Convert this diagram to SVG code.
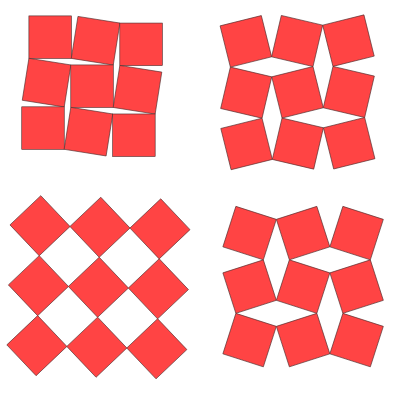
<svg xmlns="http://www.w3.org/2000/svg" xmlns:xlink="http://www.w3.org/1999/xlink" width="400" height="400" viewBox="0 0 400 400">
<style>
.sq{fill:#ff4444;stroke:#4a2a2a;stroke-width:0.6;stroke-linejoin:miter}
</style>
<defs>
<rect id="s" class="sq" x="-21.25" y="-21.25" width="42.5" height="42.5"/>
</defs>
<rect width="400" height="400" fill="#ffffff"/>
<g id="panel1" transform="translate(50.15,37.15) rotate(4.5)">
<use href="#s" transform="translate(0,0) rotate(-4.5)"/>
<use href="#s" transform="translate(45.6,0) rotate(4.5)"/>
<use href="#s" transform="translate(91.2,0) rotate(-4.5)"/>
<use href="#s" transform="translate(0,45.6) rotate(4.5)"/>
<use href="#s" transform="translate(45.6,45.6) rotate(-4.5)"/>
<use href="#s" transform="translate(91.2,45.6) rotate(4.5)"/>
<use href="#s" transform="translate(0,91.2) rotate(-4.5)"/>
<use href="#s" transform="translate(45.6,91.2) rotate(4.5)"/>
<use href="#s" transform="translate(91.2,91.2) rotate(-4.5)"/>
</g>
<g id="panel2" transform="translate(245.85,41.35) rotate(-0.4)">
<use href="#s" transform="translate(0,0) rotate(-13.6)"/>
<use href="#s" transform="translate(51.3,0) rotate(13.6)"/>
<use href="#s" transform="translate(102.6,0) rotate(-13.6)"/>
<use href="#s" transform="translate(0,51.3) rotate(13.6)"/>
<use href="#s" transform="translate(51.3,51.3) rotate(-13.6)"/>
<use href="#s" transform="translate(102.6,51.3) rotate(13.6)"/>
<use href="#s" transform="translate(0,102.6) rotate(-13.6)"/>
<use href="#s" transform="translate(51.3,102.6) rotate(13.6)"/>
<use href="#s" transform="translate(102.6,102.6) rotate(-13.6)"/>
</g>
<g id="panel3" transform="translate(40,225.7) rotate(1.5)">
<use href="#s" transform="translate(0,0) rotate(-45)"/>
<use href="#s" transform="translate(60,0) rotate(45)"/>
<use href="#s" transform="translate(120,0) rotate(-45)"/>
<use href="#s" transform="translate(0,60) rotate(45)"/>
<use href="#s" transform="translate(60,60) rotate(-45)"/>
<use href="#s" transform="translate(120,60) rotate(45)"/>
<use href="#s" transform="translate(0,120) rotate(-45)"/>
<use href="#s" transform="translate(60,120) rotate(45)"/>
<use href="#s" transform="translate(120,120) rotate(-45)"/>
</g>
<g id="panel4" transform="translate(249.6,233.1)">
<use href="#s" transform="translate(0,0) rotate(17.8)"/>
<use href="#s" transform="translate(53.5,0) rotate(-17.8)"/>
<use href="#s" transform="translate(107,0) rotate(17.8)"/>
<use href="#s" transform="translate(0,53.5) rotate(-17.8)"/>
<use href="#s" transform="translate(53.5,53.5) rotate(17.8)"/>
<use href="#s" transform="translate(107,53.5) rotate(-17.8)"/>
<use href="#s" transform="translate(0,107) rotate(17.8)"/>
<use href="#s" transform="translate(53.5,107) rotate(-17.8)"/>
<use href="#s" transform="translate(107,107) rotate(17.8)"/>
</g>
</svg>
